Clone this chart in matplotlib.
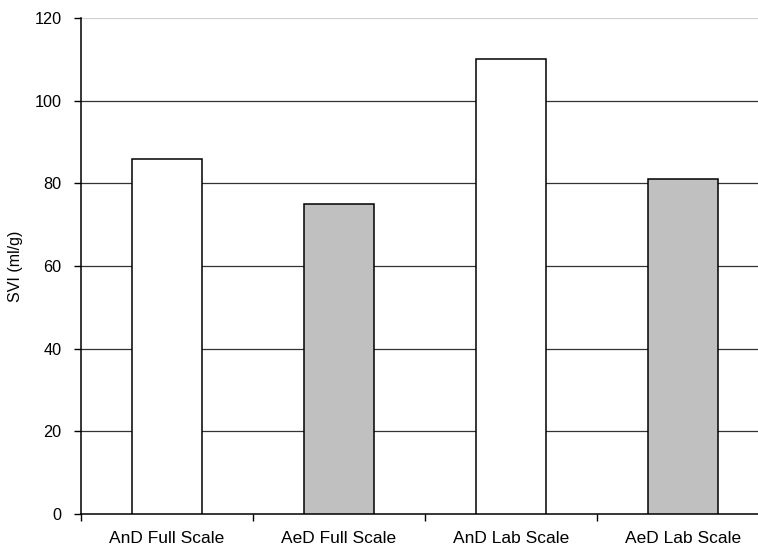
import matplotlib
matplotlib.use("Agg")
import matplotlib.pyplot as plt
import numpy as np

plt.rcParams['font.family'] = ['Liberation Sans', 'DejaVu Sans']

categories = ["AnD Full Scale", "AeD Full Scale", "AnD Lab Scale", "AeD Lab Scale"]
svi = [86, 75, 110, 81]
colors = ["white", "#c0c0c0", "white", "#c0c0c0"]
yticks = [0, 20, 40, 60, 80, 100, 120]

fig = plt.figure(figsize=(7.58, 5.48), dpi=100)
ax = fig.add_axes([81/758, (548-514)/548, 688/758, (514-18)/548])

x = np.arange(len(categories))
for yv in yticks[1:]:
    ax.axhline(yv, color="#d0d0d0" if yv == 120 else "#333333", lw=0.9, zorder=0)
ax.bar(x, svi, width=0.41, color=colors, edgecolor="black", linewidth=1.1, zorder=3)

ax.set_xlim(-0.5, len(categories) - 0.5)
ax.set_ylim(0, 120)
ax.set_yticks(yticks)
ax.set_xticks(x)
ax.set_xticklabels(categories, fontsize=12.5)
ax.set_xticks(np.arange(len(categories) + 1) - 0.5, minor=True)
ax.tick_params(axis='x', which='major', length=0, pad=12)
ax.tick_params(axis='x', which='minor', length=5, width=1, direction='out')
ax.tick_params(axis='y', length=5, width=1, direction='out', labelsize=11.7, pad=9)
ax.set_ylabel("SVI (ml/g)", fontsize=11.5)
ax.yaxis.set_label_coords(-0.085, 0.5)

for s in ["top", "right"]:
    ax.spines[s].set_visible(False)
for s in ["left", "bottom"]:
    ax.spines[s].set_linewidth(1.1)

fig.savefig("out.png", dpi=100)
